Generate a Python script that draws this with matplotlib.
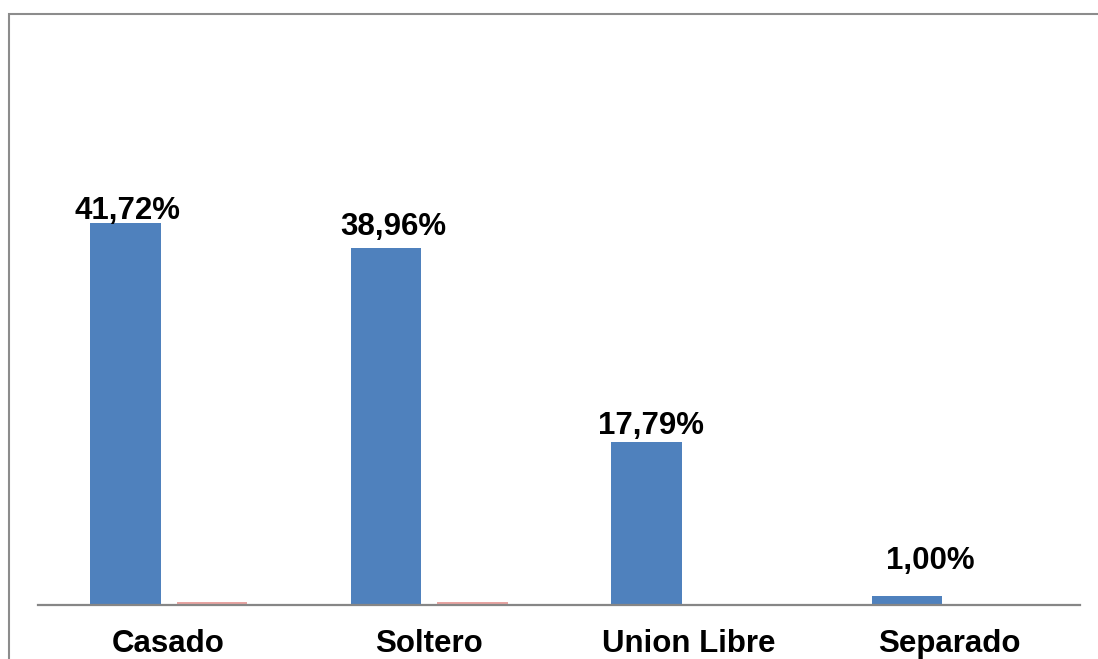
import matplotlib.pyplot as plt
from matplotlib.patches import Rectangle
import numpy as np

plt.rcParams['font.family'] = ['Liberation Sans', 'DejaVu Sans']

# estado civil
categorias = ['Casado', 'Soltero', 'Union Libre', 'Separado']
porcentaje = [41.72, 38.96, 17.79, 1.00]
serie2 = [0.3, 0.3, 0.0, 0.0]
etiquetas = ['41,72%', '38,96%', '17,79%', '1,00%']

# desplazamiento manual de cada etiqueta (px)
nudge_x = [2, 7, 4.5, 23.5]
nudge_y = [4, 13, 8, 27]

fig = plt.figure(figsize=(10.98, 6.59), dpi=100)
ax = fig.add_axes([38 / 1098, 54 / 659, 1042 / 1098, 0.6947])

x = np.arange(len(categorias))
w = 0.269
ax.bar(x - 0.164, porcentaje, w, color='#4F81BD')
ax.bar(x + 0.168, serie2, w, color='#e8a4a2')

px = 72 / fig.dpi
for xi, v, lab, dx, dy in zip(x, porcentaje, etiquetas, nudge_x, nudge_y):
    ax.annotate(lab, xy=(xi - 0.164, v), xytext=(dx * px, dy * px),
                textcoords='offset points', ha='center', va='baseline',
                fontsize=22.5, fontweight='bold')

ax.set_xlim(-0.5, 3.5)
ax.set_ylim(0, 50)
ax.set_xticks(x)
ax.set_xticklabels(categorias, fontsize=22.5, fontweight='bold')
ax.tick_params(axis='x', length=0, pad=17)
ax.set_yticks([])
for s in ['top', 'right', 'left']:
    ax.spines[s].set_visible(False)
ax.spines['bottom'].set_color('#868686')
ax.spines['bottom'].set_linewidth(1.6)

# marco del grafico
fig.patches.append(Rectangle((8.5 / 1098, -0.1), 1.2, (659 - 13.5) / 659 + 0.1,
                             transform=fig.transFigure, fill=False,
                             edgecolor='#8c8c8c', linewidth=1.5))

fig.savefig('out.png', dpi=100)
